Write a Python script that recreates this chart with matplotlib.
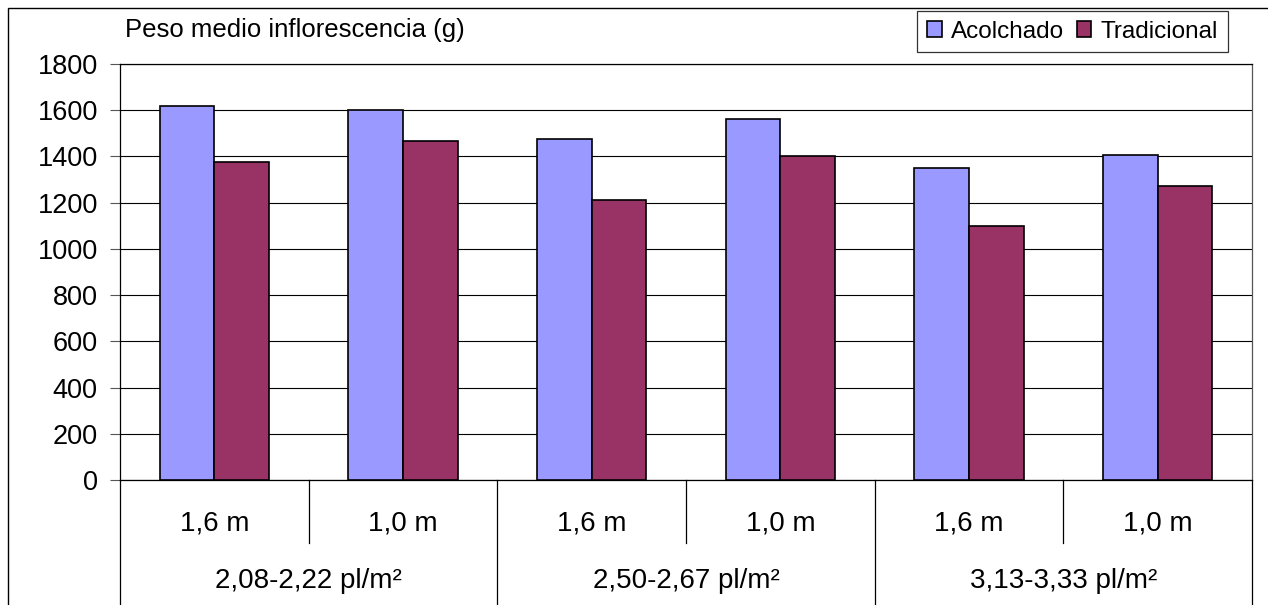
import matplotlib
matplotlib.use("Agg")
import matplotlib.pyplot as plt
import numpy as np
from matplotlib.patches import Rectangle

plt.rcParams['font.family'] = ['Liberation Sans', 'DejaVu Sans']

sub_labels = ["1,6 m", "1,0 m", "1,6 m", "1,0 m", "1,6 m", "1,0 m"]
group_labels = ["2,08-2,22 pl/m²", "2,50-2,67 pl/m²", "3,13-3,33 pl/m²"]
acolchado = [1620, 1600, 1475, 1560, 1350, 1405]
tradicional = [1375, 1465, 1210, 1400, 1100, 1270]
series_names = ["Acolchado", "Tradicional"]
colors = ["#9999FF", "#993366"]
yticks = [0, 200, 400, 600, 800, 1000, 1200, 1400, 1600, 1800]

W, H = 1268, 605
fig = plt.figure(figsize=(W / 100, H / 100), dpi=100)
ax = fig.add_axes([120 / W, 1 - 480 / H, (1252 - 120) / W, (480 - 64) / H])

n = len(sub_labels)
x = np.arange(n) + 0.5
bw = 0.29
b1 = ax.bar(x - bw / 2, acolchado, bw, color=colors[0], edgecolor="black", linewidth=1.2, zorder=3, label=series_names[0])
b2 = ax.bar(x + bw / 2, tradicional, bw, color=colors[1], edgecolor="black", linewidth=1.2, zorder=3, label=series_names[1])

ax.set_xlim(0, n)
ax.set_ylim(0, 1800)
ax.set_yticks(yticks)
ax.set_yticklabels([str(v) for v in yticks], fontsize=19.5)
ax.tick_params(axis="y", length=7, width=0.8, color="#555555", pad=9)
ax.grid(axis="y", color="black", linewidth=0.8, zorder=0)
ax.set_xticks([])
for s in ["left", "right", "top", "bottom"]:
    ax.spines[s].set_linewidth(0.9)
    ax.spines[s].set_color("black")
ax.spines["right"].set_color("#555555")

# category axis lines
trans = ax.get_xaxis_transform()
h_px = 480 - 64
def yfrac(ypix):
    return -(ypix - 480) / h_px

for i in range(n + 1):
    if i % 2 == 0:
        ax.plot([i, i], [0, yfrac(610)], transform=trans, color="black", lw=0.9, clip_on=False)
    else:
        ax.plot([i, i], [0, yfrac(543)], transform=trans, color="black", lw=0.9, clip_on=False)

for i, lab in enumerate(sub_labels):
    ax.text(i + 0.5, yfrac(524), lab, transform=trans, ha="center", va="center", fontsize=20)
for g, lab in enumerate(group_labels):
    ax.text(2 * g + 1, yfrac(581), lab, transform=trans, ha="center", va="center", fontsize=20)

# title
fig.text(125 / W, 1 - 30 / H, "Peso medio inflorescencia (g)", ha="left", va="center", fontsize=18.5)

# figure border
fig.patches.append(Rectangle((8 / W, -0.1), 1.2, 1.1 - 8 / H, transform=fig.transFigure,
                             fill=False, edgecolor="black", linewidth=1.0))

leg = fig.legend(handles=[b1, b2], loc="upper right", bbox_to_anchor=(1228 / W, 1 - 11 / H),
                 ncol=2, fontsize=17.5, frameon=True, fancybox=False, borderpad=0.4,
                 handlelength=0.6, handleheight=0.6, handletextpad=0.4, columnspacing=0.5,
                 borderaxespad=0)
leg.get_frame().set_edgecolor("black")
leg.get_frame().set_linewidth(0.9)

fig.savefig("out.png", dpi=100)
